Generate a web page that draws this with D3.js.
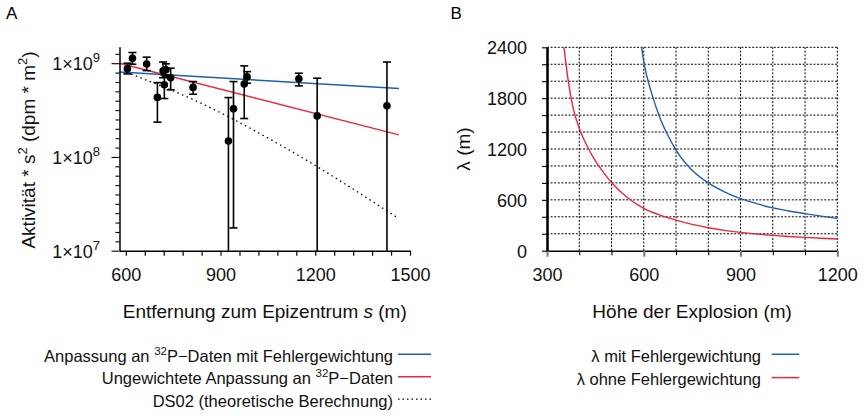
<!DOCTYPE html>
<html><head><meta charset="utf-8">
<script src="https://cdn.jsdelivr.net/npm/d3@7"></script>
<style>
body{margin:0;background:#fff;}
svg{display:block;font-family:"Liberation Sans",Arial,Helvetica,sans-serif;}
</style></head><body>
<svg id="chart" width="868" height="416"></svg>
<script>
// ---- Panel A: 32P activity * s^2 against distance from the epicentre ----
const distance     = [605, 621, 666, 700, 718, 722, 727, 742, 813, 925, 941, 975, 984, 1148, 1206, 1427];
const activity     = [8.75e8, 1.13e9, 9.78e8, 4.32e8, 8.3e8, 5.9e8, 8.5e8, 7.0e8, 5.52e8, 1.48e8, 3.26e8, 6.01e8, 7.14e8, 6.81e8, 2.74e8, 3.51e8];
// lower bound 0: the interval reaches below the axis
const activityLow  = [7.69e8, 9.75e8, 8.34e8, 2.35e8, 7.0e8, 4.2e8, 7.2e8, 5.2e8, 4.67e8, 0, 1.75e7, 2.57e8, 6.12e8, 5.73e8, 0, 0];
const activityHigh = [1.0e9, 1.30e9, 1.16e9, 6.21e8, 1.03e9, 7.5e8, 9.85e8, 8.85e8, 6.37e8, 4.30e8, 6.37e8, 9.36e8, 8.13e8, 7.82e8, 6.92e8, 1.03e9];
const weightedFit   = [[580, 8.07e8], [1465, 5.36e8]];
const unweightedFit = [[580, 1.0e9], [1465, 1.72e8]];
const ds02Curve     = [[602, 8.0e8], [834, 3.8e8], [1088, 1.35e8], [1463, 2.22e7]];
const distanceMajor = [600, 900, 1200, 1500];
const distanceMinor = [660, 720, 780, 840, 960, 1020, 1080, 1140, 1260, 1320, 1380, 1440];
const activityMajorExp = [7, 8, 9];
// minor ticks every tenth of a decade
const activityMinorExp = [7.1, 7.2, 7.3, 7.4, 7.5, 7.6, 7.7, 7.8, 7.9, 8.1, 8.2, 8.3, 8.4, 8.5, 8.6, 8.7, 8.8, 8.9, 9.1];

// ---- Panel B: lambda against height of the burst ----
const heightUnweighted = [352.7, 366, 380, 400, 425, 450, 475, 500, 550, 600, 650, 700, 750, 800, 850, 900, 950, 1000, 1050, 1100, 1150, 1200];
const lambdaUnweighted = [2400, 2000, 1700, 1444, 1230, 1060, 925, 805, 625, 500, 420, 360, 310, 271, 240, 216, 197, 181, 168, 157, 147, 138];
const heightWeighted = [593.4, 600, 625, 650, 675, 700, 750, 800, 850, 900, 950, 1000, 1050, 1100, 1150, 1200];
const lambdaWeighted = [2400, 2230, 1850, 1570, 1360, 1188, 950, 800, 695, 615, 555, 505, 468, 437, 408, 382];
const heightTicks = [300, 600, 900, 1200];
const heightGrid = [300, 400, 500, 600, 700, 800, 900, 1000, 1100, 1200];
const lambdaTicks = [0, 600, 1200, 1800, 2400];
const lambdaGrid = [0, 200, 400, 600, 800, 1000, 1200, 1400, 1600, 1800, 2000, 2200, 2400];

const BLUE = "#1d5fad", RED = "#e8283c";

const legendA = [
  {pre: "Anpassung an ", sup: "32", post: "P\u2212Daten mit Fehlergewichtung", color: BLUE, dash: null},
  {pre: "Ungewichtete Anpassung an ", sup: "32", post: "P\u2212Daten", color: RED, dash: null},
  {pre: "DS02 (theoretische Berechnung)", sup: "", post: "", color: "#000", dash: "1.5,3"}
];
const legendB = [
  {text: "\u03bb mit Fehlergewichtung", color: BLUE},
  {text: "\u03bb ohne Fehlergewichtung", color: RED}
];

const svg = d3.select("#chart");

// ================= Panel A =================
const xA = d3.scaleLinear().domain([580, 1500]).range([119.5, 410]);
const yA = d3.scaleLog().domain([1e7, 1.5e9]).range([250.7, 46.7]);
const gA = svg.append("g");

gA.append("text").attr("x", 6).attr("y", 19.3).attr("font-size", 17).text("A");

// fit lines
gA.append("path").datum(ds02Curve)
  .attr("d", d3.line().x(d => xA(d[0])).y(d => yA(d[1])).curve(d3.curveMonotoneX))
  .attr("fill", "none").attr("stroke", "#000").attr("stroke-width", 1.3).attr("stroke-dasharray", "1.5,3.5");
gA.append("path").datum(unweightedFit).attr("d", d3.line().x(d => xA(d[0])).y(d => yA(d[1])))
  .attr("fill", "none").attr("stroke", RED).attr("stroke-width", 1.5);
gA.append("path").datum(weightedFit).attr("d", d3.line().x(d => xA(d[0])).y(d => yA(d[1])))
  .attr("fill", "none").attr("stroke", BLUE).attr("stroke-width", 1.5);

// error bars and points
const pts = distance.map((d, i) => ({x: d, y: activity[i], lo: activityLow[i], hi: activityHigh[i]}));
const yLo = d => d.lo > 0 ? yA(d.lo) : yA.range()[0];
const eb = gA.append("g").attr("stroke", "#000").attr("stroke-width", 1.6);
eb.selectAll(".v").data(pts).join("line")
  .attr("x1", d => xA(d.x)).attr("x2", d => xA(d.x))
  .attr("y1", d => yA(d.hi)).attr("y2", yLo);
eb.selectAll(".t").data(pts).join("line")
  .attr("x1", d => xA(d.x) - 4).attr("x2", d => xA(d.x) + 4)
  .attr("y1", d => yA(d.hi)).attr("y2", d => yA(d.hi));
eb.selectAll(".b").data(pts.filter(d => d.lo > 0)).join("line")
  .attr("x1", d => xA(d.x) - 4).attr("x2", d => xA(d.x) + 4)
  .attr("y1", d => yA(d.lo)).attr("y2", d => yA(d.lo));
gA.append("g").selectAll("circle").data(pts).join("circle")
  .attr("cx", d => xA(d.x)).attr("cy", d => yA(d.y)).attr("r", 3.8).attr("fill", "#000");

// x axis A
const xAxisA = d3.axisBottom(xA).tickValues(distanceMajor.concat(distanceMinor))
  .tickSize(5).tickSizeOuter(0).tickPadding(13)
  .tickFormat(d => distanceMajor.includes(d) ? d : "");
const gxA = gA.append("g").attr("transform", `translate(0,${yA.range()[0]})`).call(xAxisA);
gxA.select(".domain").attr("stroke-width", 1.5);
gxA.selectAll(".tick line").attr("stroke-width", 1.2);
gxA.selectAll("text").attr("font-size", 18).attr("fill", "#111").attr("font-family", null);

// y axis A
const activityMajor = activityMajorExp.map(e => Math.pow(10, e));
const activityMinor = activityMinorExp.map(e => Math.pow(10, e));
const yAxisA = d3.axisLeft(yA).tickValues(activityMajor.concat(activityMinor))
  .tickSize(4).tickSizeOuter(0).tickFormat("");
const gyA = gA.append("g").attr("transform", `translate(${xA.range()[0]},0)`).call(yAxisA);
gyA.select(".domain").attr("stroke-width", 1.5);
gyA.selectAll(".tick line").attr("stroke-width", 1.1)
  .attr("x2", d => activityMajor.includes(d) ? -8 : -4);
const yLab = gA.append("g").selectAll("text").data(activityMajorExp).join("text")
  .attr("x", 100).attr("y", e => yA(Math.pow(10, e)) + 7.2).attr("text-anchor", "end")
  .attr("font-size", 18).attr("fill", "#111");
yLab.append("tspan").text("1\u00d710");
yLab.append("tspan").attr("font-size", 13).attr("dy", -8).text(e => e);

// axis titles A
const xtA = gA.append("text").attr("x", d3.mean(xA.range())).attr("y", 318)
  .attr("text-anchor", "middle").attr("font-size", 19).attr("fill", "#111");
xtA.append("tspan").text("Entfernung zum Epizentrum ");
xtA.append("tspan").attr("font-style", "italic").text("s");
xtA.append("tspan").text(" (m)");
const ytA = gA.append("text").attr("transform", "translate(35,150) rotate(-90)")
  .attr("text-anchor", "middle").attr("font-size", 19).attr("fill", "#111");
ytA.append("tspan").text("Aktivit\u00e4t * s");
ytA.append("tspan").attr("font-size", 13).attr("dy", -8).text("2");
ytA.append("tspan").attr("dy", 8).text(" (dpm * m");
ytA.append("tspan").attr("font-size", 13).attr("dy", -8).text("2");
ytA.append("tspan").attr("dy", 8).text(")");

// legend A
const legA = gA.append("g");
legendA.forEach((e, i) => {
  const yb = 361.7 + i * 22.5;
  const t = legA.append("text").attr("x", 393).attr("y", yb).attr("text-anchor", "end")
    .attr("font-size", 16.5).attr("fill", "#111");
  t.append("tspan").text(e.pre);
  if (e.sup) {
    t.append("tspan").attr("font-size", 11.5).attr("dy", -7).text(e.sup);
    t.append("tspan").attr("dy", 7).text(e.post);
  }
  legA.append("line").attr("x1", 398).attr("x2", 431).attr("y1", yb - 7.5).attr("y2", yb - 7.5)
    .attr("stroke", e.color).attr("stroke-width", e.dash ? 1.2 : 1.5)
    .attr("stroke-dasharray", e.dash);
});

// ================= Panel B =================
const xB = d3.scaleLinear().domain([300, 1200]).range([547, 837.3]);
const yB = d3.scaleLinear().domain([0, 2400]).range([250.7, 47.3]);
const gB = svg.append("g");
gB.append("text").attr("x", 450.5).attr("y", 19.3).attr("font-size", 17).text("B");

// dotted grid
const grid = gB.append("g").attr("stroke", "#000").attr("stroke-width", 1).attr("stroke-dasharray", "2,1.6");
grid.selectAll(".gv").data(heightGrid.slice(1)).join("line")
  .attr("x1", d => xB(d)).attr("x2", d => xB(d)).attr("y1", yB.range()[0]).attr("y2", yB.range()[1]);
grid.selectAll(".gh").data(lambdaGrid.slice(1)).join("line")
  .attr("x1", xB.range()[0]).attr("x2", xB.range()[1]).attr("y1", d => yB(d)).attr("y2", d => yB(d));

// curves
const lineB = d3.line().x(d => xB(d[0])).y(d => yB(d[1])).curve(d3.curveMonotoneX);
gB.append("path").datum(heightUnweighted.map((h, i) => [h, lambdaUnweighted[i]])).attr("d", lineB)
  .attr("fill", "none").attr("stroke", RED).attr("stroke-width", 1.4);
gB.append("path").datum(heightWeighted.map((h, i) => [h, lambdaWeighted[i]])).attr("d", lineB)
  .attr("fill", "none").attr("stroke", BLUE).attr("stroke-width", 1.4);

// x axis B
const xAxisB = d3.axisBottom(xB).tickValues(heightGrid).tickSize(5).tickSizeOuter(0).tickPadding(13)
  .tickFormat(d => heightTicks.includes(d) ? d : "");
const gxB = gB.append("g").attr("transform", `translate(0,${yB.range()[0]})`).call(xAxisB);
gxB.select(".domain").attr("stroke-width", 1.5);
gxB.selectAll(".tick line").attr("stroke", d => heightTicks.includes(d) ? "#777" : "#000")
  .attr("stroke-width", d => heightTicks.includes(d) ? 2 : 1.1)
  .attr("y2", d => heightTicks.includes(d) ? 6 : 4.5);
gxB.selectAll("text").attr("font-size", 18).attr("fill", "#111").attr("font-family", null);

// y axis B
const yAxisB = d3.axisLeft(yB).tickValues(lambdaGrid).tickSize(5).tickSizeOuter(0).tickPadding(14)
  .tickFormat(d => lambdaTicks.includes(d) ? d : "");
const gyB = gB.append("g").attr("transform", `translate(${xB.range()[0]},0)`).call(yAxisB);
gyB.select(".domain").attr("stroke-width", 2.6);
gyB.selectAll(".tick line").attr("stroke-width", 1.1);
gyB.selectAll("text").attr("font-size", 18).attr("fill", "#111").attr("font-family", null)
  .attr("x", -20).attr("dy", "0.35em");

// axis titles B
gB.append("text").attr("x", d3.mean(xB.range())).attr("y", 318)
  .attr("text-anchor", "middle").attr("font-size", 19).attr("fill", "#111").text("H\u00f6he der Explosion (m)");
gB.append("text").attr("transform", "translate(470,149) rotate(-90)")
  .attr("text-anchor", "middle").attr("font-size", 19).attr("fill", "#111").text("\u03bb (m)");

// legend B
legendB.forEach((e, i) => {
  const yb = 361.7 + i * 23.3;
  gB.append("text").attr("x", 761).attr("y", yb).attr("text-anchor", "end")
    .attr("font-size", 16.5).attr("fill", "#111").text(e.text);
  gB.append("line").attr("x1", 771.7).attr("x2", 799.3).attr("y1", yb - 7.4).attr("y2", yb - 7.4)
    .attr("stroke", e.color).attr("stroke-width", 1.5);
});
</script>
</body></html>
